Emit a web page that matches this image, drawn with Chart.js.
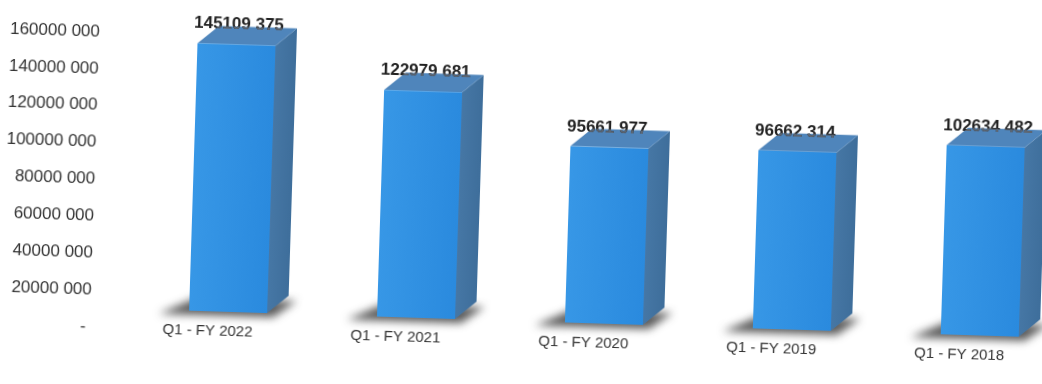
<!DOCTYPE html>
<html>
<head>
<meta charset="utf-8">
<title>Q1 revenue by fiscal year</title>
<script src="https://cdn.jsdelivr.net/npm/chart.js@4.4.1/dist/chart.umd.min.js"></script>
<style>
  html, body { margin: 0; padding: 0; background: #fff; width: 1042px; height: 384px; overflow: hidden; }
  #wrap { position: absolute; left: 0; top: 0; width: 1060px; height: 384px; transform: rotate(1.8deg); transform-origin: 521px 192px; }
</style>
</head>
<body>
<div id="wrap"><canvas id="revChart" width="1060" height="384"></canvas></div>
<script>
const quarters = ["Q1 - FY 2022", "Q1 - FY 2021", "Q1 - FY 2020", "Q1 - FY 2019", "Q1 - FY 2018"];
const revenue = [145109375, 122979681, 95661977, 96662314, 102634482];
const yTicks = [0, 20000000, 40000000, 60000000, 80000000, 100000000, 120000000, 140000000, 160000000];

// "145109 375" style: thousands block split off with a space
const fmt = (v) => {
    if (v === 0) return "- ";
    return Math.floor(v / 1000) + " " + String(v % 1000).padStart(3, "0");
};

// 3d look: front face pushed right/up, side + top faces, soft floor shadow
const depthX = 21;
const depthY = -18;
const shiftX = 20;
const shiftY = -19;

const box3d = {
    id: "box3d",
    afterDatasetsDraw(chart) {
        const ctx = chart.ctx;
        const meta = chart.getDatasetMeta(0);
        meta.data.forEach((bar, i) => {
            const w = bar.width;
            const l = bar.x - w / 2 + shiftX;
            const r = l + w;
            const t = bar.y + shiftY;
            const b = bar.base + shiftY;

            // shadow on the floor
            ctx.save();
            ctx.filter = "blur(4px)";
            ctx.fillStyle = "rgba(35,35,35,0.75)";
            ctx.beginPath();
            ctx.moveTo(l - 30, b + 4);
            ctx.lineTo(r + 6, b + 4);
            ctx.lineTo(r + depthX + 8, b + depthY + 5);
            ctx.lineTo(l + depthX - 14, b + depthY + 5);
            ctx.closePath();
            ctx.fill();
            ctx.restore();

            // side face
            const sg = ctx.createLinearGradient(r, 0, r + depthX, 0);
            sg.addColorStop(0, "#4677a5");
            sg.addColorStop(1, "#3e6e9b");
            ctx.fillStyle = sg;
            ctx.beginPath();
            ctx.moveTo(r, t);
            ctx.lineTo(r + depthX, t + depthY);
            ctx.lineTo(r + depthX, b + depthY);
            ctx.lineTo(r, b);
            ctx.closePath();
            ctx.fill();

            // top face
            ctx.fillStyle = "#4f85bb";
            ctx.beginPath();
            ctx.moveTo(l, t);
            ctx.lineTo(l + depthX, t + depthY);
            ctx.lineTo(r + depthX, t + depthY);
            ctx.lineTo(r, t);
            ctx.closePath();
            ctx.fill();

            // front face
            const fg = ctx.createLinearGradient(l, 0, r, 0);
            fg.addColorStop(0, "#3797e6");
            fg.addColorStop(1, "#2a8ade");
            ctx.fillStyle = fg;
            ctx.fillRect(l, t, w, b - t);

            // value label, greyed where it sits over the bar top
            const txt = fmt(revenue[i]);
            const ty = t - 15;
            ctx.font = "bold 17px 'Liberation Sans', Arial, sans-serif";
            ctx.textAlign = "left";
            ctx.textBaseline = "alphabetic";
            ctx.fillStyle = "#222";
            ctx.fillText(txt, l - 4, ty);
            ctx.save();
            ctx.beginPath();
            ctx.moveTo(l, t);
            ctx.lineTo(l + depthX, t + depthY);
            ctx.lineTo(r + depthX, t + depthY);
            ctx.lineTo(r + depthX, b);
            ctx.lineTo(r, b);
            ctx.closePath();
            ctx.clip();
            ctx.fillStyle = "#5c6673";
            ctx.fillText(txt, l - 4, ty);
            ctx.restore();
        });
    }
};

const ctx = document.getElementById("revChart").getContext("2d");

new Chart(ctx, {
    type: "bar",
    data: {
        labels: quarters,
        datasets: [
            {
                label: "Revenue",
                data: revenue,
                backgroundColor: "rgba(0,0,0,0)",
                borderWidth: 0,
                categoryPercentage: 1,
                barPercentage: 0.415
            }
        ]
    },
    options: {
        responsive: false,
        animation: false,
        layout: { padding: { top: 45, right: 2, bottom: 0, left: 0 } },
        plugins: {
            legend: { display: false },
            tooltip: { enabled: false }
        },
        scales: {
            x: {
                grid: { display: false, drawTicks: false },
                border: { display: false },
                ticks: {
                    mirror: true,
                    padding: -10,
                    color: "#333",
                    font: { family: "'Liberation Sans', Arial, sans-serif", size: 15 }
                },
                afterFit(scale) { scale.height = 44; }
            },
            y: {
                min: 0,
                max: 160000000,
                afterBuildTicks(scale) { scale.ticks = yTicks.map(v => ({ value: v })); },
                grid: { display: false, drawTicks: false },
                border: { display: false },
                ticks: {
                    padding: 23,
                    color: "#333",
                    font: { family: "'Liberation Sans', Arial, sans-serif", size: 17 },
                    callback: (v) => fmt(v)
                },
                afterFit(scale) { scale.width = 118; }
            }
        }
    },
    plugins: [box3d]
});
</script>
</body>
</html>
